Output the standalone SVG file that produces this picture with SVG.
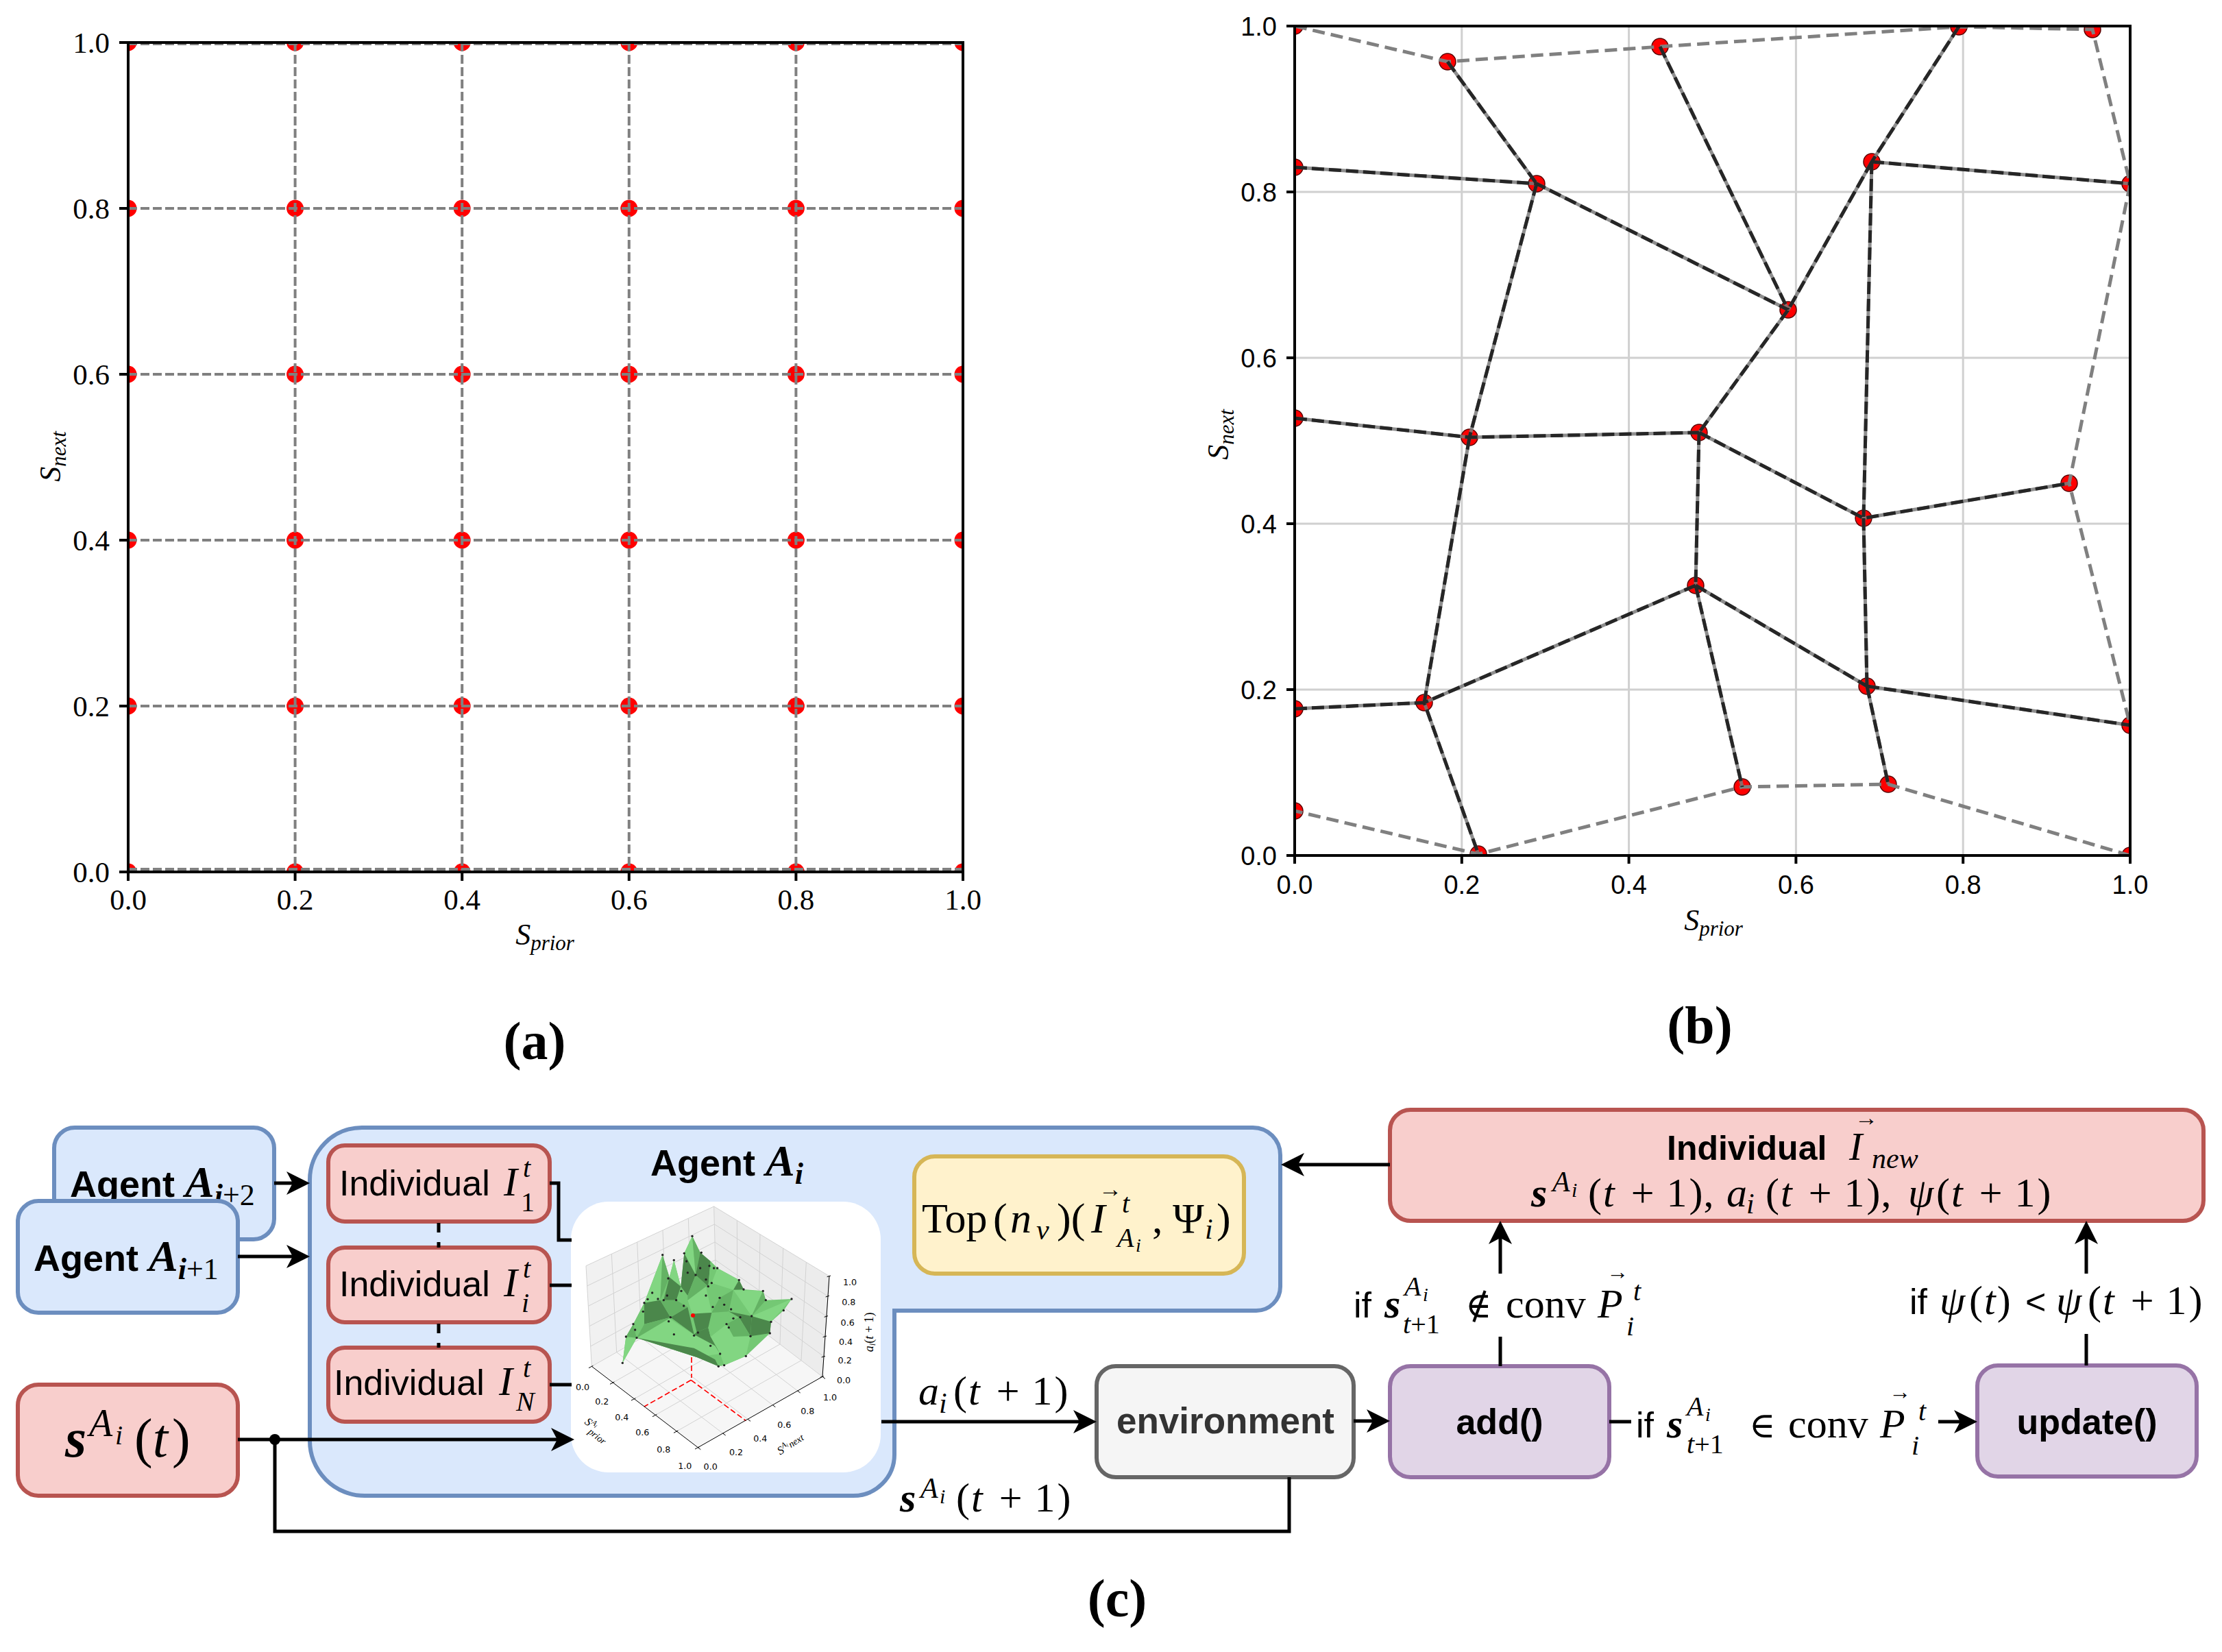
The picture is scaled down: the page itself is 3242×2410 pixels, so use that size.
<svg xmlns="http://www.w3.org/2000/svg" width="3242" height="2410" viewBox="0 0 3242 2410">
<defs>
<style>
.sp{fill:none;stroke:#000;stroke-width:4}
.tk{stroke:#000;stroke-width:4}
.ga{fill:none;stroke:#808080;stroke-width:4;stroke-dasharray:13 5}
.dot{fill:#ff0000}
.dotb{fill:#ff0000;stroke:#5a0000;stroke-width:1.5}
.tlS{font-family:"Liberation Serif","Times New Roman",serif;font-size:43px;fill:#000}
.tlN{font-family:"Liberation Sans",Arial,sans-serif;font-size:38px;fill:#000}
.grd{stroke:#d0d0d0;stroke-width:3;fill:none}
.eo{fill:none;stroke:#808080;stroke-width:5;stroke-dasharray:18 9}
.eb{fill:none;stroke:#7a7a7a;stroke-width:5}
.ed{fill:none;stroke:#262626;stroke-width:5;stroke-dasharray:18 7}
.blue{fill:#dae8fc;stroke:#6c8ebf;stroke-width:6}
.red{fill:#f8cecc;stroke:#b85450;stroke-width:6}
.yel{fill:#fff2cc;stroke:#d6b656;stroke-width:6}
.gry{fill:#f5f5f5;stroke:#666666;stroke-width:6}
.pur{fill:#e1d5e7;stroke:#9673a6;stroke-width:6}
.sans{font-family:"Liberation Sans",Arial,sans-serif;fill:#000}
.b{font-weight:bold}
.nb{font-weight:normal}
.m{font-family:"Liberation Serif","Times New Roman",serif;fill:#000}
.dj{font-family:"DejaVu Serif",serif}
.it{font-style:italic}
.up{font-style:normal}
.con{fill:none;stroke:#000;stroke-width:5}
.g3{stroke:#d2d2d2;stroke-width:3;fill:none}
.ax3{stroke:#000;stroke-width:3;fill:none}
.t3{font-family:"DejaVu Sans",sans-serif;font-size:38px;fill:#000;text-anchor:middle}
.L{fill:#82d682}
.M{fill:#64b264}
.D{fill:#4b874b}
.F{fill:#74c874}
.k{fill:#222}
</style>
<marker id="ar" markerUnits="userSpaceOnUse" markerWidth="40" markerHeight="40" viewBox="-38 -20 40 40" refX="-20" refY="0" orient="auto" overflow="visible"><path d="M0,0 L-34,-17 L-25,0 L-34,17 Z" fill="#000"/></marker>
<clipPath id="ca"><rect x="187" y="62" width="1218" height="1210"/></clipPath>
<clipPath id="cb"><rect x="1889" y="38" width="1219" height="1210"/></clipPath>
</defs>
<rect width="3242" height="2410" fill="#fff"/>

<!-- ================= PLOT (a) ================= -->
<g id="plot-a">
<g clip-path="url(#ca)">
<g id="a-dots">
<circle class="dot" cx="187" cy="1272" r="12.5"/><circle class="dot" cx="430.6" cy="1272" r="12.5"/><circle class="dot" cx="674.2" cy="1272" r="12.5"/><circle class="dot" cx="917.8" cy="1272" r="12.5"/><circle class="dot" cx="1161.4" cy="1272" r="12.5"/><circle class="dot" cx="1405" cy="1272" r="12.5"/>
<circle class="dot" cx="187" cy="1030" r="12.5"/><circle class="dot" cx="430.6" cy="1030" r="12.5"/><circle class="dot" cx="674.2" cy="1030" r="12.5"/><circle class="dot" cx="917.8" cy="1030" r="12.5"/><circle class="dot" cx="1161.4" cy="1030" r="12.5"/><circle class="dot" cx="1405" cy="1030" r="12.5"/>
<circle class="dot" cx="187" cy="788" r="12.5"/><circle class="dot" cx="430.6" cy="788" r="12.5"/><circle class="dot" cx="674.2" cy="788" r="12.5"/><circle class="dot" cx="917.8" cy="788" r="12.5"/><circle class="dot" cx="1161.4" cy="788" r="12.5"/><circle class="dot" cx="1405" cy="788" r="12.5"/>
<circle class="dot" cx="187" cy="546" r="12.5"/><circle class="dot" cx="430.6" cy="546" r="12.5"/><circle class="dot" cx="674.2" cy="546" r="12.5"/><circle class="dot" cx="917.8" cy="546" r="12.5"/><circle class="dot" cx="1161.4" cy="546" r="12.5"/><circle class="dot" cx="1405" cy="546" r="12.5"/>
<circle class="dot" cx="187" cy="304" r="12.5"/><circle class="dot" cx="430.6" cy="304" r="12.5"/><circle class="dot" cx="674.2" cy="304" r="12.5"/><circle class="dot" cx="917.8" cy="304" r="12.5"/><circle class="dot" cx="1161.4" cy="304" r="12.5"/><circle class="dot" cx="1405" cy="304" r="12.5"/>
<circle class="dot" cx="187" cy="62" r="12.5"/><circle class="dot" cx="430.6" cy="62" r="12.5"/><circle class="dot" cx="674.2" cy="62" r="12.5"/><circle class="dot" cx="917.8" cy="62" r="12.5"/><circle class="dot" cx="1161.4" cy="62" r="12.5"/><circle class="dot" cx="1405" cy="62" r="12.5"/>
</g>
<path class="ga" d="M187,62V1272M430.6,62V1272M674.2,62V1272M917.8,62V1272M1161.4,62V1272M1405,62V1272M187,1268H1405M187,1030H1405M187,788H1405M187,546H1405M187,304H1405M187,64H1405"/>
</g>
<rect class="sp" x="187" y="62" width="1218" height="1210"/>
<path class="tk" d="M187,1272v13M430.6,1272v13M674.2,1272v13M917.8,1272v13M1161.4,1272v13M1405,1272v13M187,1272h-13M187,1030h-13M187,788h-13M187,546h-13M187,304h-13M187,62h-13"/>
<g class="tlS" text-anchor="middle">
<text x="187" y="1327">0.0</text><text x="430.6" y="1327">0.2</text><text x="674.2" y="1327">0.4</text><text x="917.8" y="1327">0.6</text><text x="1161.4" y="1327">0.8</text><text x="1405" y="1327">1.0</text>
</g>
<g class="tlS" text-anchor="end">
<text x="160" y="1287">0.0</text><text x="160" y="1045">0.2</text><text x="160" y="803">0.4</text><text x="160" y="561">0.6</text><text x="160" y="319">0.8</text><text x="160" y="77">1.0</text>
</g>
<text class="m it" font-size="44" x="795" y="1378" text-anchor="middle">S<tspan font-size="31" dy="8">prior</tspan></text>
<text class="m it" font-size="44" transform="translate(88,666) rotate(-90)" text-anchor="middle">S<tspan font-size="31" dy="8">next</tspan></text>
</g>

<!-- ================= PLOT (b) ================= -->
<g id="plot-b">
<path class="grd" d="M2132.8,38V1248M2376.6,38V1248M2620.4,38V1248M2864.2,38V1248M1889,1006H3108M1889,764H3108M1889,522H3108M1889,280H3108"/>
<g clip-path="url(#cb)">
<g id="b-dots">
<circle class="dotb" cx="1889" cy="38" r="12"/><circle class="dotb" cx="2112" cy="90" r="12"/><circle class="dotb" cx="2422" cy="68" r="12"/><circle class="dotb" cx="2858" cy="39" r="12"/><circle class="dotb" cx="3053" cy="43" r="12"/>
<circle class="dotb" cx="1889" cy="244" r="12"/><circle class="dotb" cx="2242" cy="268" r="12"/><circle class="dotb" cx="2731" cy="236" r="12"/><circle class="dotb" cx="3108" cy="268" r="12"/><circle class="dotb" cx="2609" cy="452" r="12"/>
<circle class="dotb" cx="1889" cy="610" r="12"/><circle class="dotb" cx="2144" cy="638" r="12"/><circle class="dotb" cx="2479" cy="631" r="12"/><circle class="dotb" cx="3019" cy="705" r="12"/><circle class="dotb" cx="2719" cy="756" r="12"/>
<circle class="dotb" cx="2474" cy="854" r="12"/><circle class="dotb" cx="1889" cy="1034" r="12"/><circle class="dotb" cx="2078" cy="1025" r="12"/><circle class="dotb" cx="2724" cy="1001" r="12"/><circle class="dotb" cx="3108" cy="1058" r="12"/>
<circle class="dotb" cx="2542" cy="1148" r="12"/><circle class="dotb" cx="2755" cy="1144" r="12"/><circle class="dotb" cx="1889" cy="1183" r="12"/><circle class="dotb" cx="2157" cy="1246" r="12"/><circle class="dotb" cx="3108" cy="1248" r="12"/>
</g>
<g id="b-edges">
<path class="eo" d="M1889,38L2112,90L2422,68L2858,39L3053,43L3108,268L3019,705L3108,1058M3108,1248L2755,1144L2542,1148L2157,1246L1889,1183"/>
<path class="eb" d="M2112,90L2242,268M2422,68L2609,452M2858,39L2731,236M1889,244L2242,268L2609,452M2242,268L2144,638M2731,236L2609,452M2731,236L3108,268M2731,236L2719,756M2609,452L2479,631M1889,610L2144,638L2479,631M2144,638L2078,1025M2479,631L2474,854M2479,631L2719,756L3019,705M2719,756L2724,1001M2474,854L2078,1025M2474,854L2724,1001M2474,854L2542,1148M1889,1034L2078,1025L2157,1246M2724,1001L3108,1058M2724,1001L2755,1144" opacity="0.85"/>
<path class="ed" d="M2112,90L2242,268M2422,68L2609,452M2858,39L2731,236M1889,244L2242,268L2609,452M2242,268L2144,638M2731,236L2609,452M2731,236L3108,268M2731,236L2719,756M2609,452L2479,631M1889,610L2144,638L2479,631M2144,638L2078,1025M2479,631L2474,854M2479,631L2719,756L3019,705M2719,756L2724,1001M2474,854L2078,1025M2474,854L2724,1001M2474,854L2542,1148M1889,1034L2078,1025L2157,1246M2724,1001L3108,1058M2724,1001L2755,1144"/>
</g>
</g>
<rect class="sp" x="1889" y="38" width="1219" height="1210"/>
<path class="tk" d="M1889,1248v12M2132.8,1248v12M2376.6,1248v12M2620.4,1248v12M2864.2,1248v12M3108,1248v12M1889,1248h-12M1889,1006h-12M1889,764h-12M1889,522h-12M1889,280h-12M1889,38h-12"/>
<g class="tlN" text-anchor="middle">
<text x="1889" y="1304">0.0</text><text x="2132.8" y="1304">0.2</text><text x="2376.6" y="1304">0.4</text><text x="2620.4" y="1304">0.6</text><text x="2864.2" y="1304">0.8</text><text x="3108" y="1304">1.0</text>
</g>
<g class="tlN" text-anchor="end">
<text x="1863" y="1262">0.0</text><text x="1863" y="1020">0.2</text><text x="1863" y="778">0.4</text><text x="1863" y="536">0.6</text><text x="1863" y="294">0.8</text><text x="1863" y="52">1.0</text>
</g>
<text class="m it" font-size="44" x="2500" y="1357" text-anchor="middle">S<tspan font-size="31" dy="8">prior</tspan></text>
<text class="m it" font-size="44" transform="translate(1792,634) rotate(-90)" text-anchor="middle">S<tspan font-size="31" dy="8">next</tspan></text>
</g>

<!-- captions -->
<text class="m b" font-size="78" x="780" y="1545" text-anchor="middle">(a)</text>
<text class="m b" font-size="78" x="2480" y="1522" text-anchor="middle">(b)</text>
<text class="m b" font-size="78" x="1630" y="2358" text-anchor="middle">(c)</text>

<!-- ================= DIAGRAM (c) ================= -->
<g id="agent-i2">
<rect class="blue" x="79" y="1645" width="321" height="163" rx="30"/>
<text class="sans b" font-size="54" x="102" y="1746">Agent <tspan class="m it" font-size="64">A</tspan><tspan class="m it" font-size="44" dy="12">i</tspan><tspan class="m nb" font-size="44">+2</tspan></text>
</g>
<g id="agent-i1">
<rect class="blue" x="26" y="1752" width="321" height="163" rx="30"/>
<text class="sans b" font-size="54" x="49" y="1854">Agent <tspan class="m it" font-size="64">A</tspan><tspan class="m it" font-size="44" dy="12">i</tspan><tspan class="m nb" font-size="44">+1</tspan></text>
</g>

<g id="agent-i">
<path class="blue" d="M528,1645H1828A40,40 0 0 1 1868,1685V1877A35,35 0 0 1 1833,1912H1305V2122A60,60 0 0 1 1245,2182H532A80,80 0 0 1 452,2102V1721A76,76 0 0 1 528,1645Z"/>
<text class="sans b" font-size="54" x="949" y="1715">Agent <tspan class="m it" font-size="64">A</tspan><tspan class="m it" font-size="44" dy="12">i</tspan></text>
</g>

<g id="ind-1">
<rect class="red" x="479" y="1671" width="323" height="111" rx="24"/>
<text class="sans" font-size="52" x="495" y="1744">Individual<tspan class="m it" font-size="60" x="735" y="1744">I</tspan><tspan class="m it" font-size="40" x="763" y="1717">t</tspan><tspan class="m up" font-size="40" x="760" y="1767">1</tspan></text>
</g>
<g id="ind-i">
<rect class="red" x="479" y="1820" width="323" height="109" rx="24"/>
<text class="sans" font-size="52" x="495" y="1891">Individual<tspan class="m it" font-size="60" x="735" y="1891">I</tspan><tspan class="m it" font-size="40" x="763" y="1864">t</tspan><tspan class="m it" font-size="40" x="761" y="1914">i</tspan></text>
</g>
<g id="ind-n">
<rect class="red" x="479" y="1966" width="323" height="108" rx="24"/>
<text class="sans" font-size="52" x="487" y="2035">Individual<tspan class="m it" font-size="60" x="728" y="2035">I</tspan><tspan class="m it" font-size="40" x="763" y="2009">t</tspan><tspan class="m it" font-size="40" x="753" y="2058">N</tspan></text>
</g>

<g id="top-box">
<rect class="yel" x="1334" y="1687" width="481" height="171" rx="30"/>
<text class="m" font-size="62" y="1798"><tspan x="1345">Top</tspan><tspan x="1449">(</tspan><tspan class="it" x="1474">n</tspan><tspan class="it" font-size="42" x="1512" y="1808">ν</tspan><tspan x="1542" y="1798">)(</tspan><tspan class="it" x="1592">I</tspan><tspan font-size="34" x="1603" y="1746">→</tspan><tspan class="it" font-size="40" x="1637" y="1769">t</tspan><tspan class="it" font-size="40" x="1630" y="1819">A</tspan><tspan class="it" font-size="28" x="1657" y="1826">i</tspan><tspan x="1681" y="1798">,</tspan><tspan x="1711" y="1798">Ψ</tspan><tspan class="it" font-size="42" x="1758" y="1807">i</tspan><tspan x="1775" y="1798">)</tspan></text>
</g>

<g id="plot3d">
<rect x="833" y="1753" width="452" height="395" rx="55" fill="#fff"/>
<g transform="translate(830,1750) scale(0.33333)">
<polygon points="100,730 75,290 635,30 645,420" fill="#f1f1f1"/>
<polygon points="645,420 635,30 1140,335 1110,775" fill="#ececec"/>
<polygon points="100,730 565,1085 1110,775 645,420" fill="#f6f6f6"/>
<path class="g3" d="M209,668L187,238M318,606L299,186M427,544L411,134M536,482L523,82M95,642L643,342M90,554L641,264M85,466L639,186M80,378L637,108M75,290L635,30M738,491L736,91M831,562L837,152M924,633L938,213M1017,704L1039,274M643,342L1116,687M641,264L1122,599M639,186L1128,511M637,108L1134,423M635,30L1140,335M193,801L738,491M286,872L831,562M379,943L924,633M472,1014L1017,704M209,668L674,1023M318,606L783,961M427,544L892,899M536,482L1001,837M100,730L645,420L1110,775M645,420L635,30M100,730L75,290M1110,775L1140,335"/>
<polygon class="F" points="235,715 250,600 282,545 330,452 410,242 440,340 460,265 490,380 505,235 540,160 575,232 620,270 650,300 745,352 765,393 850,400 862,440 975,435 940,485 885,535 880,585 775,685 680,725 655,730 560,690 297,605"/>
<polygon class="L" points="235,715 250,600 297,605"/>
<polygon class="M" points="250,600 282,545 297,605"/>
<polygon class="F" points="282,545 330,452 330,545 297,605"/>
<polygon class="L" points="330,452 410,242 400,440"/>
<polygon class="M" points="410,242 440,340 400,440"/>
<polygon class="L" points="440,340 460,265 490,380"/>
<polygon class="D" points="440,340 490,380 470,440 415,440"/>
<polygon class="L" points="505,235 540,160 555,330"/>
<polygon class="M" points="540,160 575,232 555,330"/>
<polygon class="D" points="505,235 555,330 520,420 490,380"/>
<polygon class="D" points="575,232 620,270 610,380 555,330"/>
<polygon class="F" points="620,270 650,300 625,365 610,380"/>
<polygon class="L" points="650,300 745,352 720,395 625,365"/>
<polygon class="D" points="745,352 765,393 720,395"/>
<polygon class="D" points="330,452 400,440 445,515 330,545"/>
<polygon class="L" points="297,605 440,520 545,590 640,640 662,675 560,690"/>
<polygon class="M" points="297,605 330,545 445,515 440,520"/>
<polygon class="D" points="445,515 520,470 548,590"/>
<polygon class="M" points="400,440 470,440 520,470 445,515"/>
<polygon class="L" points="520,440 600,380 625,495 540,500"/>
<polygon class="M" points="555,330 610,380 600,380 520,440 520,420"/>
<polygon class="D" points="540,500 625,495 610,560 560,580"/>
<polygon class="M" points="625,495 660,430 720,395 700,490"/>
<polygon class="L" points="720,395 850,400 800,510"/>
<polygon class="M" points="850,400 862,440 800,510"/>
<polygon class="L" points="800,510 975,435 885,535"/>
<polygon class="D" points="795,598 880,585 885,535 800,510"/>
<polygon class="D" points="700,490 800,510 795,598 745,515"/>
<polygon class="M" points="690,545 745,515 795,598 720,600"/>
<polygon class="L" points="620,600 690,545 720,600 795,598 775,685 680,725 662,675"/>
<polygon class="D" points="560,580 610,560 620,600 662,675 640,640 548,590"/>
<polygon class="D" points="297,605 560,690 655,730 640,700 548,650"/>
<polygon class="F" points="610,560 700,490 690,545 620,600"/>
<g class="k">
<circle cx="235" cy="715" r="5"/><circle cx="250" cy="600" r="5"/><circle cx="282" cy="545" r="5"/><circle cx="290" cy="570" r="5"/><circle cx="297" cy="605" r="5"/><circle cx="325" cy="490" r="5"/><circle cx="330" cy="452" r="5"/><circle cx="345" cy="436" r="5"/><circle cx="365" cy="408" r="5"/><circle cx="390" cy="435" r="5"/><circle cx="410" cy="242" r="5"/><circle cx="415" cy="440" r="5"/><circle cx="430" cy="420" r="5"/><circle cx="435" cy="345" r="5"/><circle cx="437" cy="533" r="5"/><circle cx="445" cy="515" r="5"/><circle cx="460" cy="265" r="5"/><circle cx="470" cy="440" r="5"/><circle cx="492" cy="400" r="5"/><circle cx="503" cy="465" r="5"/><circle cx="505" cy="235" r="5"/><circle cx="515" cy="270" r="5"/><circle cx="520" cy="320" r="5"/><circle cx="540" cy="160" r="5"/><circle cx="548" cy="595" r="5"/><circle cx="555" cy="330" r="5"/><circle cx="575" cy="300" r="5"/><circle cx="580" cy="232" r="5"/><circle cx="600" cy="350" r="5"/><circle cx="610" cy="380" r="5"/><circle cx="615" cy="290" r="5"/><circle cx="625" cy="365" r="5"/><circle cx="635" cy="300" r="5"/><circle cx="650" cy="300" r="5"/><circle cx="660" cy="430" r="5"/><circle cx="662" cy="675" r="5"/><circle cx="655" cy="730" r="5"/><circle cx="680" cy="725" r="5"/><circle cx="690" cy="545" r="5"/><circle cx="700" cy="560" r="5"/><circle cx="720" cy="520" r="5"/><circle cx="745" cy="352" r="5"/><circle cx="750" cy="515" r="5"/><circle cx="765" cy="393" r="5"/><circle cx="775" cy="685" r="5"/><circle cx="795" cy="598" r="5"/><circle cx="800" cy="510" r="5"/><circle cx="850" cy="400" r="5"/><circle cx="862" cy="440" r="5"/><circle cx="880" cy="585" r="5"/><circle cx="885" cy="535" r="5"/><circle cx="940" cy="485" r="5"/><circle cx="975" cy="435" r="5"/><circle cx="620" cy="640" r="5"/><circle cx="565" cy="582" r="5"/><circle cx="600" cy="420" r="5"/><circle cx="630" cy="470" r="5"/><circle cx="680" cy="460" r="5"/><circle cx="710" cy="480" r="5"/><circle cx="460" cy="590" r="5"/>
</g>
<circle cx="543" cy="507" r="9" fill="#ff0000"/>
<path d="M537,690V780M535,790L330,906M535,790L775,968" fill="none" stroke="#ff0000" stroke-width="5" stroke-dasharray="24 12"/>
<path class="ax3" d="M100,730L565,1085L1110,775L1140,335"/>
<path class="ax3" d="M106,727L87,737M199,798L180,808M292,869L273,879M385,940L366,950M478,1011L459,1021M571,1082L552,1092M565,1085L577,1094M674,1023L686,1032M783,961L795,970M892,899L904,908M1001,837L1013,846M1110,775L1122,784M1100,778L1116,773M1106,690L1122,685M1112,602L1128,597M1118,514L1134,509M1124,426L1140,421M1130,338L1146,333"/>
<text class="t3" x="60" y="833">0.0</text><text class="t3" x="145" y="898">0.2</text><text class="t3" x="232" y="965">0.4</text><text class="t3" x="322" y="1033">0.6</text><text class="t3" x="415" y="1108">0.8</text><text class="t3" x="508" y="1178">1.0</text>
<text class="t3" x="620" y="1183">0.0</text><text class="t3" x="732" y="1118">0.2</text><text class="t3" x="838" y="1058">0.4</text><text class="t3" x="943" y="998">0.6</text><text class="t3" x="1045" y="938">0.8</text><text class="t3" x="1143" y="878">1.0</text>
<text class="t3" x="1203" y="803">0.0</text><text class="t3" x="1208" y="718">0.2</text><text class="t3" x="1212" y="635">0.4</text><text class="t3" x="1220" y="553">0.6</text><text class="t3" x="1225" y="463">0.8</text><text class="t3" x="1230" y="375">1.0</text>
<text class="m it" font-size="50" transform="translate(66,978) rotate(38)">S<tspan font-size="34" dy="-18">A</tspan><tspan font-size="24" dy="6">i</tspan><tspan font-size="42" dx="-14" dy="36">prior</tspan></text>
<text class="m it" font-size="50" transform="translate(925,1118) rotate(-32)">S<tspan font-size="34" dy="-18">A</tspan><tspan font-size="24" dy="6">i</tspan><tspan font-size="42" dx="4" dy="10">next</tspan></text>
<text class="m it" font-size="54" transform="translate(1333,580) rotate(-90)" text-anchor="middle">a<tspan font-size="38" dy="8">i</tspan><tspan class="up" dy="-8">(</tspan>t<tspan class="up"> + 1)</tspan></text>
</g>
</g>

<g id="s-t">
<rect class="red" x="26" y="2020" width="321" height="162" rx="30"/>
<text class="m" font-size="80" y="2125"><tspan class="b it" x="95" y="2125">s</tspan><tspan class="it" font-size="56" x="130" y="2095">A</tspan><tspan class="it" font-size="40" x="168" y="2107">i</tspan><tspan x="196" y="2125">(</tspan><tspan class="it">t</tspan><tspan dx="6">)</tspan></text>
</g>

<g id="environment">
<rect class="gry" x="1600" y="1993" width="375" height="162" rx="28"/>
<text class="sans b" font-size="53" x="1788" y="2091" text-anchor="middle" style="fill:#333333">environment</text>
</g>

<g id="add">
<rect class="pur" x="2028" y="1993" width="320" height="162" rx="30"/>
<text class="sans b" font-size="52" x="2188" y="2092" text-anchor="middle">add()</text>
</g>
<g id="update">
<rect class="pur" x="2885" y="1992" width="320" height="162" rx="30"/>
<text class="sans b" font-size="52" x="3045" y="2092" text-anchor="middle">update()</text>
</g>

<g id="ind-new">
<rect class="red" x="2028" y="1619" width="1187" height="162" rx="30"/>
<text class="sans b" font-size="50" x="2432" y="1692">Individual<tspan class="m it nb" font-size="58" x="2698" y="1692">I</tspan><tspan class="m nb" font-size="34" x="2706" y="1642">→</tspan><tspan class="m it nb" font-size="42" x="2731" y="1704">new</tspan></text>
<text class="m" font-size="60" y="1760"><tspan class="b it" x="2234" y="1760">s</tspan><tspan class="it" font-size="42" x="2265" y="1738">A</tspan><tspan class="it" font-size="30" x="2293" y="1746">i</tspan><tspan x="2317" y="1760">(</tspan><tspan dx="2" class="it">t</tspan><tspan dx="24">+</tspan><tspan dx="18">1</tspan><tspan dx="3">)</tspan><tspan dx="1">,</tspan><tspan class="it" x="2519">a</tspan><tspan class="it" font-size="42" x="2548" y="1770">i</tspan><tspan x="2576" y="1760">(</tspan><tspan dx="2" class="it">t</tspan><tspan dx="24">+</tspan><tspan dx="18">1</tspan><tspan dx="3">)</tspan><tspan dx="1">,</tspan><tspan class="it" x="2784">ψ</tspan><tspan x="2825">(</tspan><tspan dx="2" class="it">t</tspan><tspan dx="24">+</tspan><tspan dx="18">1</tspan><tspan dx="3">)</tspan></text>
</g>

<!-- ================= CONNECTORS ================= -->
<g id="connectors">
<path class="con" d="M400,1726H432" marker-end="url(#ar)"/>
<path class="con" d="M347,1833H432" marker-end="url(#ar)"/>
<path class="con" d="M347,2100H818" marker-end="url(#ar)"/>
<path class="con" d="M1881,2155V2234H401V2100"/>
<circle cx="401" cy="2100" r="8" fill="#000"/>
<path class="con" d="M802,1726H815V1809H834"/>
<path class="con" d="M802,1875H834"/>
<path class="con" d="M802,2020H834"/>
<path class="con" d="M640,1784V1820M640,1931V1966" stroke-dasharray="14 14"/>
<path class="con" d="M1286,2074H1580" marker-end="url(#ar)"/>
<path class="con" d="M1975,2073H2008" marker-end="url(#ar)"/>
<path class="con" d="M2348,2074H2865" marker-end="url(#ar)"/>
<path class="con" d="M2189,1993V1801" marker-end="url(#ar)"/>
<path class="con" d="M3044,1992V1801" marker-end="url(#ar)"/>
<path class="con" d="M2028,1699H1889" marker-end="url(#ar)"/>

<g id="lbl-a">
<text class="m" font-size="60" y="2049"><tspan class="it" x="1340" y="2049">a</tspan><tspan class="it" font-size="42" x="1370" y="2061">i</tspan><tspan x="1391" y="2049">(</tspan><tspan dx="2" class="it">t</tspan><tspan dx="24">+</tspan><tspan dx="18">1</tspan><tspan dx="3">)</tspan></text>
</g>
<g id="lbl-s">
<text class="m" font-size="60" y="2205"><tspan class="b it" x="1313" y="2205">s</tspan><tspan class="it" font-size="42" x="1343" y="2185">A</tspan><tspan class="it" font-size="30" x="1371" y="2193">i</tspan><tspan x="1395" y="2205">(</tspan><tspan dx="2" class="it">t</tspan><tspan dx="24">+</tspan><tspan dx="18">1</tspan><tspan dx="3">)</tspan></text>
</g>
<g id="lbl-notin">
<rect x="1968" y="1858" width="440" height="92" fill="#fff"/>
<text class="sans" font-size="52" x="1975" y="1922">if<tspan class="m b it" font-size="60" x="2020" y="1922">s</tspan><tspan class="m it" font-size="40" x="2049" y="1890">A</tspan><tspan class="m it" font-size="28" x="2076" y="1898">i</tspan><tspan class="m it" font-size="40" x="2047" y="1945">t</tspan><tspan class="m up" font-size="40">+1</tspan><tspan class="m dj" font-size="52" x="2138" y="1922">∉</tspan><tspan class="m" font-size="60" x="2197" y="1922">conv</tspan><tspan class="m it" font-size="60" x="2331" y="1922">P</tspan><tspan class="m" font-size="32" x="2344" y="1866">→</tspan><tspan class="m it" font-size="40" x="2383" y="1897">t</tspan><tspan class="m it" font-size="40" x="2373" y="1948">i</tspan></text>
</g>
<g id="lbl-in">
<rect x="2380" y="2034" width="448" height="92" fill="#fff"/>
<text class="sans" font-size="52" x="2387" y="2097">if<tspan class="m b it" font-size="60" x="2432" y="2097">s</tspan><tspan class="m it" font-size="40" x="2461" y="2065">A</tspan><tspan class="m it" font-size="28" x="2488" y="2073">i</tspan><tspan class="m it" font-size="40" x="2461" y="2120">t</tspan><tspan class="m up" font-size="40">+1</tspan><tspan class="m dj" font-size="52" x="2552" y="2097">∈</tspan><tspan class="m" font-size="60" x="2609" y="2097">conv</tspan><tspan class="m it" font-size="60" x="2743" y="2097">P</tspan><tspan class="m" font-size="32" x="2756" y="2041">→</tspan><tspan class="m it" font-size="40" x="2799" y="2072">t</tspan><tspan class="m it" font-size="40" x="2789" y="2122">i</tspan></text>
</g>
<g id="lbl-psi">
<rect x="2780" y="1858" width="440" height="88" fill="#fff"/>
<text class="sans" font-size="52" x="2786" y="1917">if<tspan class="m it" font-size="60" x="2830" y="1917">ψ</tspan><tspan class="m" font-size="60" x="2873" y="1917">(</tspan><tspan class="m it" font-size="60" dx="2">t</tspan><tspan class="m" font-size="60" dx="2">)</tspan><tspan x="2955" y="1917">&lt;</tspan><tspan class="m it" font-size="60" x="3000" y="1917">ψ</tspan><tspan class="m" font-size="60" x="3046" y="1917">(</tspan><tspan class="m it" font-size="60" dx="2">t</tspan><tspan class="m" font-size="60" dx="24">+</tspan><tspan class="m" font-size="60" dx="18">1</tspan><tspan class="m" font-size="60" dx="3">)</tspan></text>
</g>
</g>
</svg>
